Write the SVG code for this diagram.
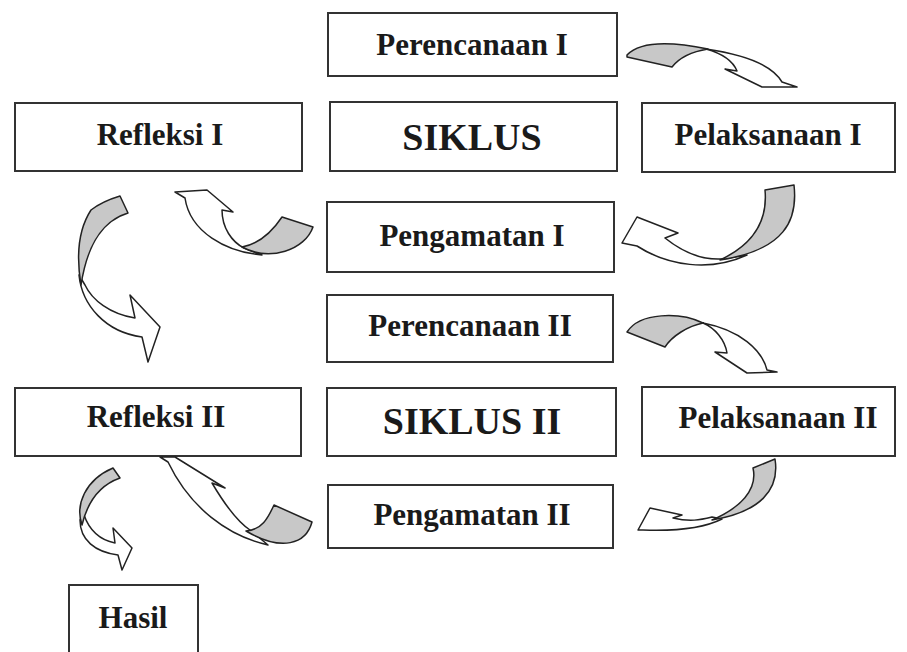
<svg xmlns="http://www.w3.org/2000/svg" width="907" height="652" viewBox="0 0 907 652">
<style>
.box{fill:#fff;stroke:#333;stroke-width:2}
.lbl{font-family:"Liberation Serif","Times New Roman",serif;font-weight:bold;font-size:31px;fill:#1a1a1a;text-anchor:middle}
.big{font-size:38px}
.g{fill:#c8c8c8;stroke:#222;stroke-width:1.5;stroke-linejoin:round}
.w{fill:#fff;stroke:#222;stroke-width:1.5;stroke-linejoin:round}
</style>
<rect width="907" height="652" fill="#fff"/>
<g id="n-perencanaan1"><rect class="box" x="328" y="13" width="289" height="63"/><text class="lbl" x="472" y="55">Perencanaan I</text></g>
<g id="n-siklus1"><rect class="box" x="330" y="102" width="287" height="69"/><text class="lbl big" x="472" y="150">SIKLUS</text></g>
<g id="n-refleksi1"><rect class="box" x="15" y="103" width="287" height="68"/><text class="lbl" x="160" y="145">Refleksi I</text></g>
<g id="n-pelaksanaan1"><rect class="box" x="642" y="103" width="253" height="69"/><text class="lbl" x="768" y="145">Pelaksanaan I</text></g>
<g id="n-pengamatan1"><rect class="box" x="327" y="202" width="287" height="70"/><text class="lbl" x="472" y="246">Pengamatan I</text></g>
<g id="n-perencanaan2"><rect class="box" x="327" y="295" width="286" height="67"/><text class="lbl" x="470" y="336">Perencanaan II</text></g>
<g id="n-siklus2"><rect class="box" x="327" y="388" width="289" height="68"/><text class="lbl big" x="472" y="434">SIKLUS II</text></g>
<g id="n-refleksi2"><rect class="box" x="15" y="388" width="286" height="68"/><text class="lbl" x="156" y="427">Refleksi II</text></g>
<g id="n-pelaksanaan2"><rect class="box" x="642" y="387" width="253" height="69"/><text class="lbl" x="778" y="428">Pelaksanaan II</text></g>
<g id="n-pengamatan2"><rect class="box" x="328" y="485" width="285" height="63"/><text class="lbl" x="472" y="525">Pengamatan II</text></g>
<g id="n-hasil"><rect class="box" x="69" y="585" width="129" height="80"/><text class="lbl" x="133" y="628">Hasil</text></g>
<g id="connectors">
<path class="w" d="M706,49 Q768,58 782,82 L797,87 L762,87 L725,69 L737,71 Q731,56 706,49 Z"/>
<path class="g" d="M627,55 Q645,36 708,49 Q683,53 672,67 L627,57 Z"/>
<path class="w" d="M747,255 C710,272 668,266 637,246 L622,243 L637,217 L678,233 L665,238 C685,254 705,260 722,259 Z"/>
<path class="g" d="M765,190 L794,185 C798,220 785,250 720,260 C752,245 768,222 765,190 Z"/>
<path class="w" d="M262,255 C226,252 190,232 185,198 L175,192 L207,190 L233,212 L222,210 C222,228 232,242 244,248 Z"/>
<path class="g" d="M282,217 L313,227 C305,250 270,262 242,247 C258,244 272,232 282,217 Z"/>
<path class="w" d="M79,275 C82,305 105,332 142,337 L148,362 L160,327 L130,295 L135,318 C110,314 92,300 85,285 Z"/>
<path class="g" d="M120,196 L128,213 C105,220 88,240 81,285 C76,255 78,230 91,210 C100,203 110,199 120,196 Z"/>
<path class="w" d="M703,323 C740,330 762,350 767,370 L777,372 L747,373 L715,352 L727,353 C725,340 715,328 703,323 Z"/>
<path class="g" d="M627,332 C640,312 680,312 703,323 C688,326 672,336 665,347 Z"/>
<path class="w" d="M722,519 C700,530 670,531 643,530 L638,530 L650,508 L682,515 L673,518 C690,522 700,520 712,517 Z"/>
<path class="g" d="M753,468 L775,459 C780,490 760,512 712,520 C740,508 758,490 753,468 Z"/>
<path class="w" d="M268,545 C228,536 190,508 168,462 L160,457 L175,457 L225,488 L212,483 C225,505 238,522 250,530 Z"/>
<path class="g" d="M274,505 L312,522 C306,544 282,552 246,531 C262,530 268,518 274,505 Z"/>
<path class="w" d="M80,520 C80,540 95,552 118,555 L122,570 L132,548 L113,528 L115,543 C100,540 90,532 84,515 Z"/>
<path class="g" d="M113,468 L120,478 C100,485 88,500 82,525 C75,505 85,480 113,468 Z"/>
</g>
</svg>
